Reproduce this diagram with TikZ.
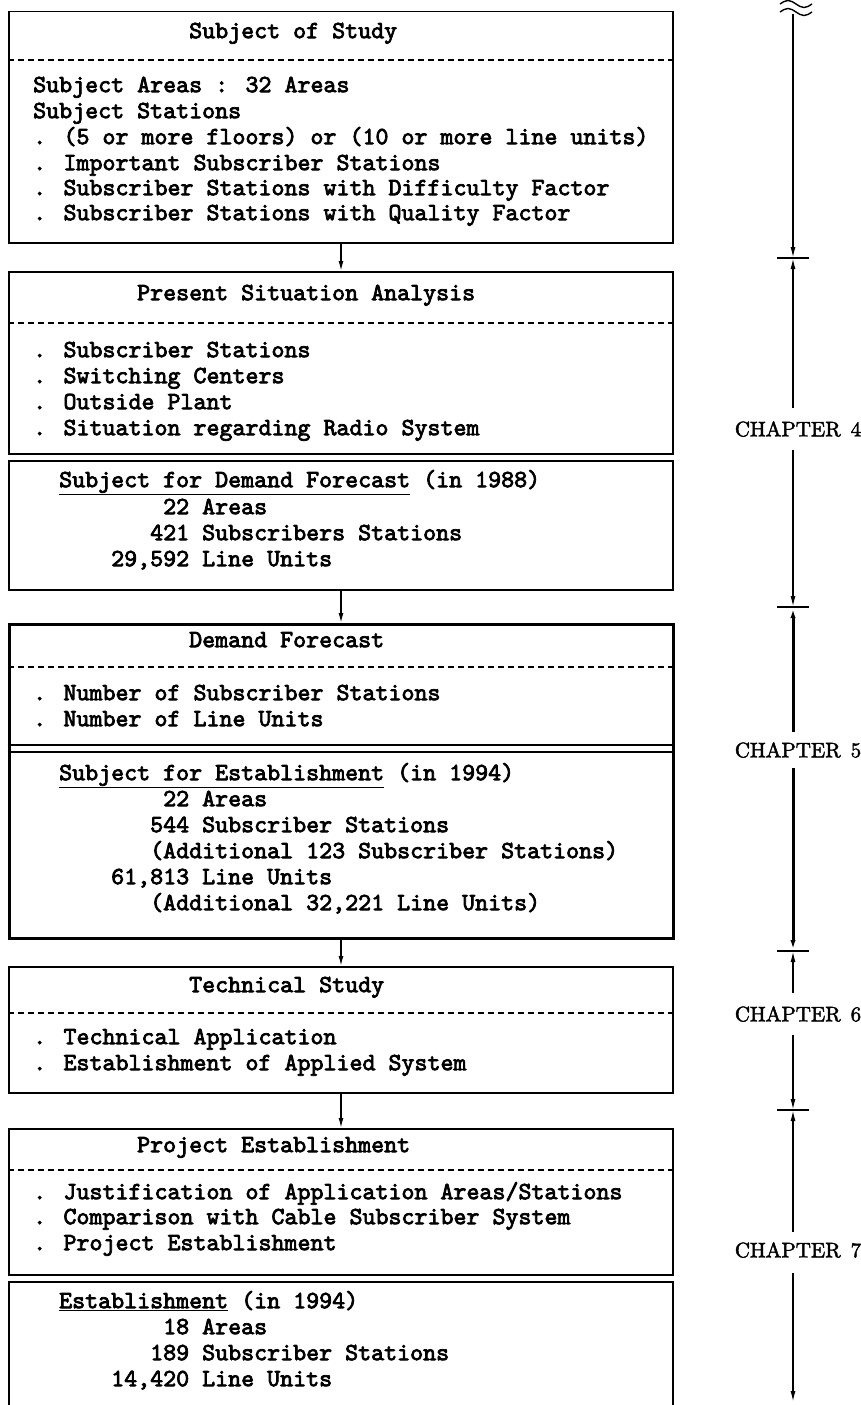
\documentclass[tikz,border=0pt]{standalone}
\usepackage{fontspec}
\usetikzlibrary{arrows.meta}
% typewriter face with a heavier stroke, and a serif face for the chapter marks
\newfontfamily\typefont{lmmono10-regular.otf}[FakeBold=3]
\newfontfamily\chapfont{lmroman10-regular.otf}[FakeBold=2]

\tikzset{
  x=1pt, y=-1pt,
  box/.style={draw, line width=1.5pt, minimum width=664pt, inner sep=0pt, anchor=north},
  heavybox/.style={box, line width=3pt},
  txt/.style={anchor=mid west, inner sep=0pt, font=\fontsize{24.76}{26}\selectfont\typefont},
  chap/.style={inner sep=0pt, font=\fontsize{21}{24}\selectfont\chapfont},
  sep/.style={line width=1.1pt, dash pattern=on 6pt off 4pt},
  arr/.style={line width=1.5pt, -{Latex[length=10pt,width=5pt]}},
  dim/.style={line width=1.5pt, -{Latex[length=11pt,width=5pt]}},
  heavydim/.style={dim, line width=3pt},
  tick/.style={line width=1.3pt}
}

\begin{document}
\begin{tikzpicture}
\useasboundingbox (0,0) rectangle (861,1405);

% ---------- boxes ----------
\node[box, minimum height=231pt] (s1) at (341,11) {};
\node[box, minimum height=182pt] (s2) at (341,271) {};
\node[box, minimum height=129pt] (s3) at (341,460) {};
\node[heavybox, minimum height=314pt] (s4) at (341,623) {};
\node[box, minimum height=126pt] (s5) at (341,966) {};
\node[box, minimum height=146pt] (s6) at (341,1128) {};
\coordinate (s7nw) at (9,1282);
\coordinate (s7ne) at (673,1282);
\draw[line width=1.5pt] (9,1405) -- (s7nw) -- (s7ne) -- (673,1405);

% separators inside boxes
\draw[sep] (s1.west |- 0,60) -- (s1.east |- 0,60);
\draw[sep] (s2.west |- 0,323) -- (s2.east |- 0,323);
\draw[sep] (s4.west |- 0,667) -- (s4.east |- 0,667);
\draw[line width=1.2pt] (s4.west |- 0,745) -- (s4.east |- 0,745);
\draw[line width=1.2pt] (s4.west |- 0,752) -- (s4.east |- 0,752);
\draw[sep] (s5.west |- 0,1013) -- (s5.east |- 0,1013);
\draw[sep] (s6.west |- 0,1170) -- (s6.east |- 0,1170);

% ---------- flow connectors ----------
\draw[arr] (s1.south) -- (s2.north);
\draw[arr] (s3.south) -- (s4.north);
\draw[arr] (s4.south) -- (s5.north);
\draw[arr] (s5.south) -- (s6.north);

% ---------- Subject of Study ----------
\node[txt] (s1t) at (189,36) {Subject of Study};
\node[txt] (s1a) at (33,90)  {Subject Areas : 32 Areas};
\node[txt] (s1b) at (33,116) {Subject Stations};
\node[txt] (s1c) at (33,142) {. (5 or more floors) or (10 or more line units)};
\node[txt] (s1d) at (33,168) {. Important Subscriber Stations};
\node[txt] (s1e) at (33,193) {. Subscriber Stations with Difficulty Factor};
\node[txt] (s1f) at (33,218) {. Subscriber Stations with Quality Factor};

% ---------- Present Situation Analysis ----------
\node[txt] (s2t) at (137,298) {Present Situation Analysis};
\node[txt] (s2a) at (33,355) {. Subscriber Stations};
\node[txt] (s2b) at (33,381) {. Switching Centers};
\node[txt] (s2c) at (33,407) {. Outside Plant};
\node[txt] (s2d) at (33,433) {. Situation regarding Radio System};

% ---------- Subject for Demand Forecast ----------
\node[txt] (s3a) at (59,485)  {\underline{Subject for Demand Forecast} (in 1988)};
\node[txt] (s3b) at (163,512) {22 Areas};
\node[txt] (s3c) at (150,538) {421 Subscribers Stations};
\node[txt] (s3d) at (111,564) {29,592 Line Units};

% ---------- Demand Forecast ----------
\node[txt] (s4t) at (189,645) {Demand Forecast};
\node[txt] (s4a) at (33,698)  {. Number of Subscriber Stations};
\node[txt] (s4b) at (33,724)  {. Number of Line Units};
\node[txt] (s4c) at (59,778)  {\underline{Subject for Establishment} (in 1994)};
\node[txt] (s4d) at (163,804) {22 Areas};
\node[txt] (s4e) at (150,830) {544 Subscriber Stations};
\node[txt] (s4f) at (150,856) {(Additional 123 Subscriber Stations)};
\node[txt] (s4g) at (111,882) {61,813 Line Units};
\node[txt] (s4h) at (150,908) {(Additional 32,221 Line Units)};

% ---------- Technical Study ----------
\node[txt] (s5t) at (189,990)  {Technical Study};
\node[txt] (s5a) at (33,1042)  {. Technical Application};
\node[txt] (s5b) at (33,1068)  {. Establishment of Applied System};

% ---------- Project Establishment ----------
\node[txt] (s6t) at (137,1150) {Project Establishment};
\node[txt] (s6a) at (33,1197)  {. Justification of Application Areas/Stations};
\node[txt] (s6b) at (33,1222)  {. Comparison with Cable Subscriber System};
\node[txt] (s6c) at (33,1248)  {. Project Establishment};

% ---------- Establishment ----------
\node[txt] (s7a) at (59,1306)  {\underline{Establishment} (in 1994)};
\node[txt] (s7b) at (163,1332) {18 Areas};
\node[txt] (s7c) at (150,1358) {189 Subscriber Stations};
\node[txt] (s7d) at (111,1384) {14,420 Line Units};

% ---------- chapter scale on the right ----------
% break mark at the top
\draw[line width=1.4pt] (780,4) sin (788,0.5) cos (796,4) sin (804,7.5) cos (812,4);
\draw[line width=1.4pt] (780,12) sin (788,8.5) cos (796,12) sin (804,15.5) cos (812,12);
\coordinate (top) at (793,14);

\coordinate (t1) at (793,258);
\coordinate (t2) at (793,607);
\coordinate (t3) at (793,951);
\coordinate (t4) at (793,1110);
\coordinate (bot) at (793,1402);
\foreach \t in {t1,t2,t3,t4}
  \draw[tick] ([xshift=-16pt]\t) -- ([xshift=16pt]\t);

\node[chap] (c4) at (798,429)  {CHAPTER\hspace{3pt} 4};
\node[chap] (c5) at (798,750)  {CHAPTER\hspace{3pt} 5};
\node[chap] (c6) at (798,1014) {CHAPTER\hspace{3pt} 6};
\node[chap] (c7) at (798,1250) {CHAPTER\hspace{3pt} 7};

\coordinate (g4a) at (793,408);  \coordinate (g4b) at (793,450);
\coordinate (g5a) at (793,732);  \coordinate (g5b) at (793,768);
\coordinate (g6a) at (793,993);  \coordinate (g6b) at (793,1035);
\coordinate (g7a) at (793,1232); \coordinate (g7b) at (793,1273);

\draw[dim] (top) -- (t1);
\draw[dim] (g4a) -- (t1);
\draw[dim] (g4b) -- (t2);
\draw[heavydim] (g5a) -- (t2);
\draw[heavydim] (g5b) -- (t3);
\draw[dim] (g6a) -- (t3);
\draw[dim] (g6b) -- (t4);
\draw[dim] (g7a) -- (t4);
\draw[dim] (g7b) -- (bot);
\end{tikzpicture}
\end{document}
